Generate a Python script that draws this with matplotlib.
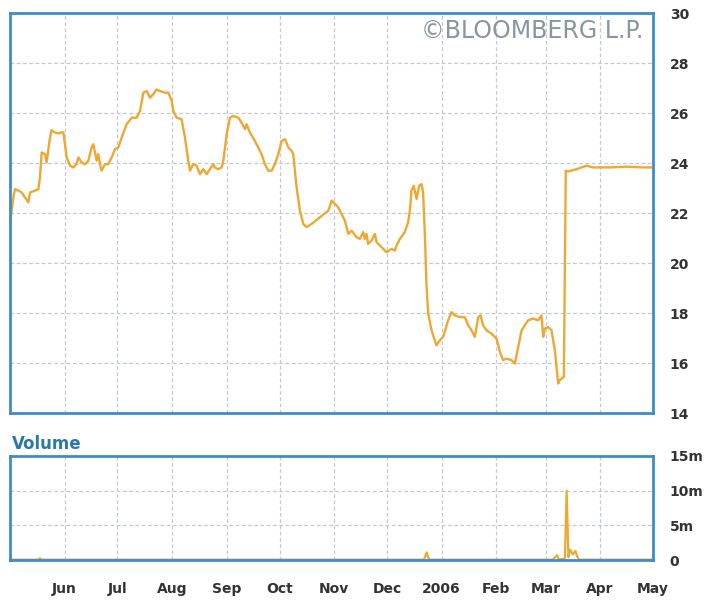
import numpy as np
import matplotlib.pyplot as plt
import matplotlib.dates as mdates
from datetime import date

start = date(2005, 5, 1)

# price, day offsets from 1 May 2005
price_day = [0, 1.9, 2.8, 4.7, 6.6, 8.5, 10.4, 11.4, 14.2, 16.1, 17.0, 18.0, 19.9, 20.8,
             22.7, 23.6, 25.5, 27.4, 29.3, 30.3, 32.2, 34.1, 35.9, 37.8, 38.8, 40.7, 42.6,
             44.5, 46.3, 47.3, 49.2, 50.1, 51.1, 52.0, 53.9, 55.8, 57.7, 59.6, 61.5, 63.4,
             66.2, 69.1, 71.9, 73.8, 75.7, 77.6, 79.5, 81.3, 83.2, 85.1, 88.0, 89.9, 91.8,
             92.7, 94.6, 97.4, 99.3, 101.2, 102.2, 104.0, 105.9, 107.8, 109.7, 111.6, 113.5,
             115.4, 116.3, 118.2, 120.1, 121.1, 123.0, 123.9, 124.9, 126.8, 129.6, 131.5,
             133.4, 134.3, 136.2, 139.0, 140.9, 142.8, 144.7, 146.6, 148.5, 150.4, 152.3,
             154.2, 156.1, 158.0, 159.9, 160.8, 162.7, 164.6, 166.5, 168.4, 171.2, 175.9,
             180.7, 182.6, 184.5, 186.3, 188.2, 190.1, 192.0, 193.9, 196.7, 198.6, 200.5,
             201.4, 202.4, 203.3, 205.2, 207.1, 208.1, 210.9, 213.7, 216.6, 218.5, 219.4,
             221.3, 224.1, 226.0, 227.0, 227.9, 229.2, 230.8, 232.3, 233.6, 234.5, 235.5,
             236.4, 237.4, 239.3, 242.1, 244.0, 245.9, 248.7, 250.6, 252.5, 255.4, 258.2,
             260.1, 262.0, 263.9, 265.8, 267.1, 268.6, 270.5, 273.3, 276.2, 278.1, 279.9,
             281.8, 284.7, 286.6, 288.5, 290.4, 292.2, 294.1, 297.0, 299.8, 301.7, 302.7,
             303.6, 305.5, 307.4, 309.3, 311.2, 312.1, 313.1, 314.4, 315.5, 316.8, 321.6,
             327.2, 331.0, 340.5, 349.9, 359.4, 364.5]
price = [21.57, 22.63, 22.96, 22.90, 22.83, 22.63, 22.43, 22.83, 22.90, 22.96, 23.43, 24.43,
         24.36, 24.03, 25.03, 25.32, 25.23, 25.19, 25.23, 25.23, 24.23, 23.90, 23.83, 23.96,
         24.23, 24.03, 23.96, 24.10, 24.63, 24.76, 24.10, 24.36, 23.96, 23.70, 23.96, 23.96,
         24.23, 24.56, 24.63, 25.03, 25.56, 25.82, 25.82, 26.09, 26.82, 26.89, 26.62, 26.76,
         26.95, 26.89, 26.82, 26.82, 26.49, 26.09, 25.82, 25.76, 25.03, 24.10, 23.70, 23.96,
         23.90, 23.56, 23.76, 23.56, 23.76, 23.96, 23.83, 23.76, 23.83, 24.10, 25.16, 25.49,
         25.82, 25.89, 25.82, 25.62, 25.36, 25.56, 25.23, 24.89, 24.63, 24.36, 23.96, 23.70,
         23.70, 23.96, 24.36, 24.89, 24.96, 24.63, 24.49, 24.36, 23.03, 22.10, 21.57, 21.44,
         21.57, 21.83, 22.10, 22.50, 22.37, 22.23, 21.97, 21.70, 21.17, 21.30, 21.04, 20.97,
         21.24, 20.97, 21.17, 20.77, 20.90, 21.17, 20.84, 20.64, 20.44, 20.57, 20.50, 20.70,
         20.97, 21.24, 21.63, 22.10, 22.90, 23.10, 22.57, 23.10, 23.16, 22.83, 21.17, 19.17,
         17.98, 17.31, 16.71, 16.91, 17.05, 17.71, 18.04, 17.91, 17.84, 17.84, 17.51, 17.31,
         17.05, 17.84, 17.91, 17.51, 17.31, 17.18, 16.98, 16.45, 16.12, 16.18, 16.12, 15.98,
         16.65, 17.31, 17.51, 17.71, 17.78, 17.71, 17.91, 17.05, 17.38, 17.44, 17.31, 16.51,
         15.18, 15.32, 15.38, 15.45, 23.70, 23.67, 23.76, 23.90, 23.83, 23.83, 23.86, 23.83,
         23.83]

# volume in millions
vol_day = [0, 16, 17, 18, 235, 236.5, 237.5, 238.5, 308, 309, 310.5, 311.5, 315, 316, 317,
           318, 319.5, 321, 322, 323, 365]
vol = [0.05, 0.05, 0.25, 0.05, 0.05, 1.1, 0.3, 0.05, 0.05, 0.3, 0.7, 0.1, 0.2, 10.0, 0.4,
       1.5, 0.8, 1.3, 0.5, 0.05, 0.05]

month_labels = ["Jun", "Jul", "Aug", "Sep", "Oct", "Nov", "Dec", "2006", "Feb", "Mar", "Apr", "May"]

line_col = "#eea832"
frame_col = "#3e8cc8"
grid_col = "#c3c9d3"
text_col = "#333333"

t0 = mdates.date2num(start)
px = t0 + np.array(price_day)
vx = t0 + np.array(vol_day)
month_ticks = [mdates.date2num(date(2005 + (m > 12), (m - 1) % 12 + 1, 1)) for m in range(6, 18)]

fig = plt.figure(figsize=(7.2, 6.03), dpi=100)
ax = fig.add_axes([0.0139, 0.315, 0.893, 0.663])
axv = fig.add_axes([0.0139, 0.0713, 0.893, 0.1725])

ax.plot(px, price, color=line_col, lw=1.7)
axv.plot(vx, vol, color=line_col, lw=1.6)

for a in (ax, axv):
    a.set_xlim(t0, t0 + 365)
    a.set_xticks(month_ticks)
    a.yaxis.tick_right()
    a.grid(True, color=grid_col, linestyle=(0, (3, 2)), lw=0.9)
    a.set_axisbelow(True)
    a.tick_params(length=0, pad=12, labelsize=10, labelcolor=text_col)
    for s in a.spines.values():
        s.set_color(frame_col)
        s.set_linewidth(2)

ax.set_ylim(14, 30)
ax.set_yticks(range(14, 31, 2))
for lab in ax.get_yticklabels():
    lab.set_fontweight("bold")
ax.tick_params(labelbottom=False)

axv.set_ylim(0, 15)
axv.set_yticks([0, 5, 10, 15])
axv.set_yticklabels(["0", "5m", "10m", "15m"], fontweight="bold")
axv.set_xticklabels(month_labels, fontweight="bold")
axv.tick_params(axis="x", pad=16)

ax.text(0.985, 0.955, "\u00a9BLOOMBERG L.P.", transform=ax.transAxes, ha="right", va="center",
        fontsize=17, color="#8796a3")
fig.text(0.016, 0.263, "Volume", fontsize=12, fontweight="bold", color="#2b78aa", va="center")

fig.savefig("out.png", dpi=100)
